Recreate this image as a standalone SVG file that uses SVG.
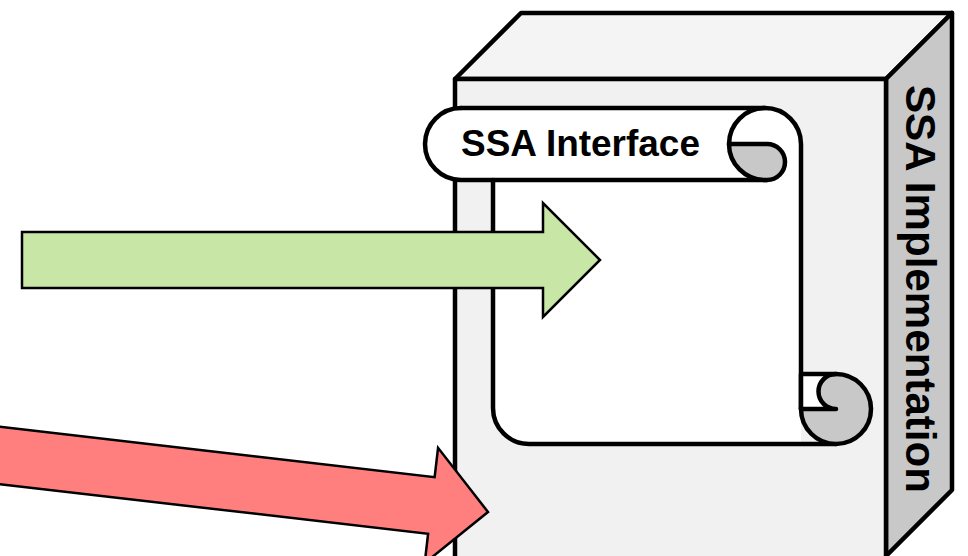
<svg xmlns="http://www.w3.org/2000/svg" width="968" height="556" viewBox="0 0 968 556">
<style>
.edge{stroke:#000;stroke-width:4.5;stroke-linejoin:round;stroke-linecap:round}
.line{fill:none;stroke:#000;stroke-width:4.5;stroke-linecap:round;stroke-linejoin:round}
.curl{fill:#c8c8c8;stroke:#000;stroke-width:4.5;stroke-linecap:round;stroke-linejoin:round}
.hole{fill:#fff;stroke:#000;stroke-width:4.5;stroke-linecap:round;stroke-linejoin:round}
.arrow{stroke:#000;stroke-width:2.5;stroke-linejoin:miter}
.lbl{font-family:"Liberation Sans",Arial,sans-serif;font-weight:bold;fill:#000}
</style>
<rect width="968" height="556" fill="#fff"/>
<g id="box">
  <polygon class="edge" points="455,79 521,13 952,13 886,79" fill="#f4f4f4"/>
  <polygon class="edge" points="886,79 952,13 952,490 886,556" fill="#c8c8c8"/>
  <rect class="edge" x="455" y="79" width="431" height="480" fill="#f1f1f1"/>
  <text class="lbl" font-size="42" text-anchor="middle" textLength="408" lengthAdjust="spacingAndGlyphs" transform="translate(906,289) rotate(90)">SSA Implementation</text>
</g>
<g id="scroll">
  <path d="M493,144 H801 V444 H529 A36,36 0 0 1 493,408 Z" fill="#fff"/>
  <path d="M461,108 H765 A36,36 0 0 1 801,144 V180 H461 A36,36 0 0 1 461,108 Z" fill="#fff"/>
  <path class="line" d="M461,108 H765 A36,36 0 0 1 801,144 V409"/>
  <path class="line" d="M461,108 A36,36 0 0 0 461,180 H767"/>
  <path class="line" d="M729,144 A36,36 0 0 1 765,108"/>
  <path class="curl" d="M729,144 H767 A18,18 0 0 1 767,180 H765 A36,36 0 0 1 729,144 Z"/>
  <path class="line" d="M493,180 V408 A36,36 0 0 0 529,444 H836"/>
  <circle class="curl" cx="836" cy="409" r="35"/>
  <path class="hole" d="M801,374 H836 A17.5,17.5 0 0 0 836,409 H801 Z"/>
  <text class="lbl" x="461" y="156" font-size="36" textLength="239" lengthAdjust="spacingAndGlyphs">SSA Interface</text>
</g>
<g id="connectors">
  <path id="green-arrow" class="arrow" d="M22,232 H543 V203 L600,260 L543,317 V288 H22 Z" fill="#c8e6a6"/>
  <path id="red-arrow" class="arrow" transform="translate(488,512) rotate(6.6)" d="M0,0 L-57,-58 L-57,-28.5 L-620,-28.5 L-620,28.5 L-57,28.5 L-57,58 Z" fill="#ff7f7f"/>
</g>
</svg>
